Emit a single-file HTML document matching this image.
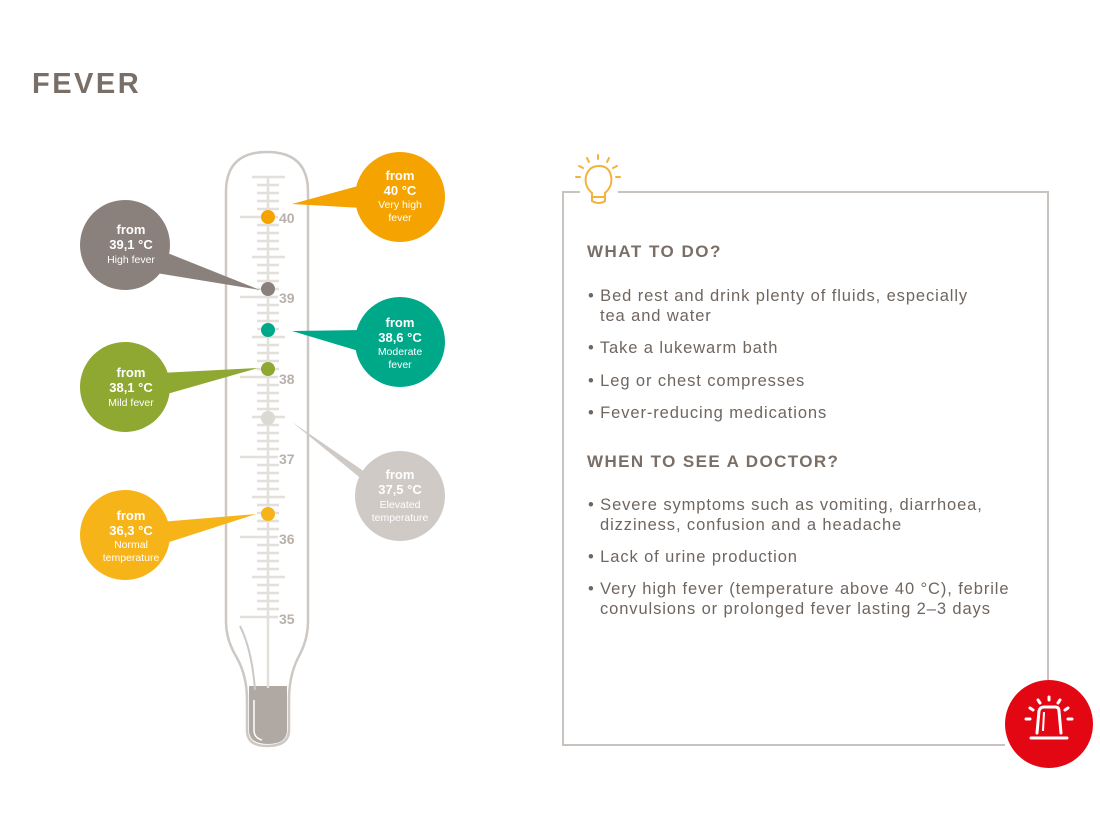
<!DOCTYPE html>
<html><head><meta charset="utf-8"><style>
body{margin:0;background:#fff;width:1100px;height:825px;overflow:hidden;font-family:"Liberation Sans",sans-serif}
svg{position:absolute;left:0;top:0}
.t{font-family:"Liberation Sans",sans-serif}
</style></head><body>
<svg id="s" width="1100" height="825" viewBox="0 0 1100 825">
<text x="32" y="93" font-size="29" font-weight="bold" fill="#7a6f66" class="t" letter-spacing="2.5">FEVER</text>
<path d="M226,622 L226,192 Q226,152 267,152 Q308,152 308,192 L308,622 Q308,640 298,658 Q289,676 289,700 L289,730 Q289,746 267,746 Q247,746 247,730 L247,700 Q247,676 237,658 Q226,640 226,622 Z" fill="#fff" stroke="#cdc8c3" stroke-width="2.5"/>
<path d="M249,686 L287,686 L287,730 Q287,744 268,744 Q249,744 249,730 Z" fill="#b0a9a3"/>
<path d="M254,700 L254,730 Q254,738 262,740" stroke="#fff" stroke-width="1.5" fill="none"/>
<path d="M240,626 Q252,650 255,690" stroke="#cdc8c3" stroke-width="2" fill="none"/>
<g id="ticks" stroke="#e3dfdb" stroke-width="2.5"><line x1="268" y1="176" x2="268" y2="688"/></g>
<g font-size="14" font-weight="bold" fill="#b8b1ab" class="t">
<text x="279" y="223">40</text><text x="279" y="303">39</text><text x="279" y="384">38</text><text x="279" y="464">37</text><text x="279" y="544">36</text><text x="279" y="624">35</text>
</g>
<polygon points="358,186 362,208 292,204" fill="#f4a300"/>
<polygon points="160,250 150,272 260,290" fill="#8a817c"/>
<polygon points="362,330 362,352 292,331" fill="#00a88a"/>
<polygon points="160,373 160,396 258,368" fill="#8fa832"/>
<polygon points="365,472 375,490 292,422" fill="#cfcac6"/>
<polygon points="160,522 160,545 256,514" fill="#f6b419"/>
<circle cx="268" cy="217" r="7" fill="#f4a300"/>
<circle cx="268" cy="289" r="7" fill="#8a817c"/>
<circle cx="268" cy="330" r="7" fill="#00a88a"/>
<circle cx="268" cy="369" r="7" fill="#8fa832"/>
<circle cx="268" cy="418" r="7" fill="#dcd8d4"/>
<circle cx="268" cy="514" r="7" fill="#f6b419"/>
<g class="t" text-anchor="middle" fill="#fff">
<circle cx="400" cy="197" r="45" fill="#f4a300"/>
<text x="400" y="180" font-size="13" font-weight="bold">from</text><text x="400" y="195" font-size="13" font-weight="bold">40 °C</text><text x="400" y="208" font-size="10.5">Very high</text><text x="400" y="221" font-size="10.5">fever</text>
<circle cx="125" cy="245" r="45" fill="#8a817c"/>
<text x="131" y="234" font-size="13" font-weight="bold">from</text><text x="131" y="249" font-size="13" font-weight="bold">39,1 °C</text><text x="131" y="263" font-size="10.5">High fever</text>
<circle cx="400" cy="342" r="45" fill="#00a88a"/>
<text x="400" y="327" font-size="13" font-weight="bold">from</text><text x="400" y="342" font-size="13" font-weight="bold">38,6 °C</text><text x="400" y="355" font-size="10.5">Moderate</text><text x="400" y="368" font-size="10.5">fever</text>
<circle cx="125" cy="387" r="45" fill="#8fa832"/>
<text x="131" y="377" font-size="13" font-weight="bold">from</text><text x="131" y="392" font-size="13" font-weight="bold">38,1 °C</text><text x="131" y="406" font-size="10.5">Mild fever</text>
<circle cx="400" cy="496" r="45" fill="#cfcac6"/>
<text x="400" y="479" font-size="13" font-weight="bold">from</text><text x="400" y="494" font-size="13" font-weight="bold">37,5 °C</text><text x="400" y="508" font-size="10.5">Elevated</text><text x="400" y="521" font-size="10.5">temperature</text>
<circle cx="125" cy="535" r="45" fill="#f6b419"/>
<text x="131" y="520" font-size="13" font-weight="bold">from</text><text x="131" y="535" font-size="13" font-weight="bold">36,3 °C</text><text x="131" y="548" font-size="10.5">Normal</text><text x="131" y="561" font-size="10.5">temperature</text>
</g>
<path d="M580,192 L563,192 L563,745 L1005,745 M1048,680 L1048,192 L618,192" stroke="#c8c3be" stroke-width="2" fill="none"/>
<g stroke="#f2b33d" stroke-width="2" fill="none" stroke-linecap="round">
<path d="M592,193 Q584,186 586,176 Q589,166 599,166 Q609,166 611,176 Q613,186 605,193 L605,201 Q599,205 592,201 Z"/>
<line x1="592" y1="197" x2="605" y2="197"/>
<line x1="598" y1="155" x2="598" y2="159"/><line x1="587" y1="158" x2="589" y2="162"/><line x1="609" y1="158" x2="607" y2="162"/><line x1="579" y1="166" x2="583" y2="168"/><line x1="617" y1="166" x2="613" y2="168"/><line x1="576" y1="177" x2="580" y2="177"/><line x1="616" y1="177" x2="620" y2="177"/>
</g>
<g class="t" fill="#6f665f" font-size="16.5" letter-spacing="0.9">
<text x="587" y="257" font-size="17" font-weight="bold" fill="#7a6f66" letter-spacing="1.5">WHAT TO DO?</text>
<text x="588" y="301">• Bed rest and drink plenty of fluids, especially</text>
<text x="600" y="321">tea and water</text>
<text x="588" y="353">• Take a lukewarm bath</text>
<text x="588" y="386">• Leg or chest compresses</text>
<text x="588" y="418">• Fever-reducing medications</text>
<text x="587" y="467" font-size="17" font-weight="bold" fill="#7a6f66" letter-spacing="1.4">WHEN TO SEE A DOCTOR?</text>
<text x="588" y="510">• Severe symptoms such as vomiting, diarrhoea,</text>
<text x="600" y="530">dizziness, confusion and a headache</text>
<text x="588" y="562">• Lack of urine production</text>
<text x="588" y="594">• Very high fever (temperature above 40 °C), febrile</text>
<text x="600" y="614">convulsions or prolonged fever lasting 2–3 days</text>
</g>
<circle cx="1049" cy="724" r="44" fill="#e30613"/>
<g stroke="#fff" stroke-width="3" fill="none" stroke-linecap="round">
<path d="M1037,733 L1039,711 Q1040,707 1044,707 L1055,707 Q1059,707 1059,711 L1061,733"/>
<line x1="1031" y1="738" x2="1067" y2="738"/>
<line x1="1049" y1="697" x2="1049" y2="700"/><line x1="1038" y1="700" x2="1040" y2="703"/><line x1="1060" y1="700" x2="1058" y2="703"/><line x1="1030" y1="708" x2="1033" y2="710"/><line x1="1068" y1="708" x2="1065" y2="710"/><line x1="1026" y1="719" x2="1030" y2="719"/><line x1="1068" y1="719" x2="1072" y2="719"/>
</g>
<path d="M1043,731 L1044,712" stroke="#fff" stroke-width="2"/>
</svg>
<script>
var g=document.getElementById('ticks'),ns='http://www.w3.org/2000/svg';
for(var y=177;y<=618;y+=8){var k=Math.round((y-217)/8);var m=((k%10)+10)%10;var x1,x2;
if(m==0){x1=240;x2=278;}else if(m==5){x1=252;x2=285;}else{x1=257;x2=279;}
var l=document.createElementNS(ns,'line');l.setAttribute('x1',x1);l.setAttribute('x2',x2);l.setAttribute('y1',y);l.setAttribute('y2',y);g.appendChild(l);}
</script>
</body></html>
